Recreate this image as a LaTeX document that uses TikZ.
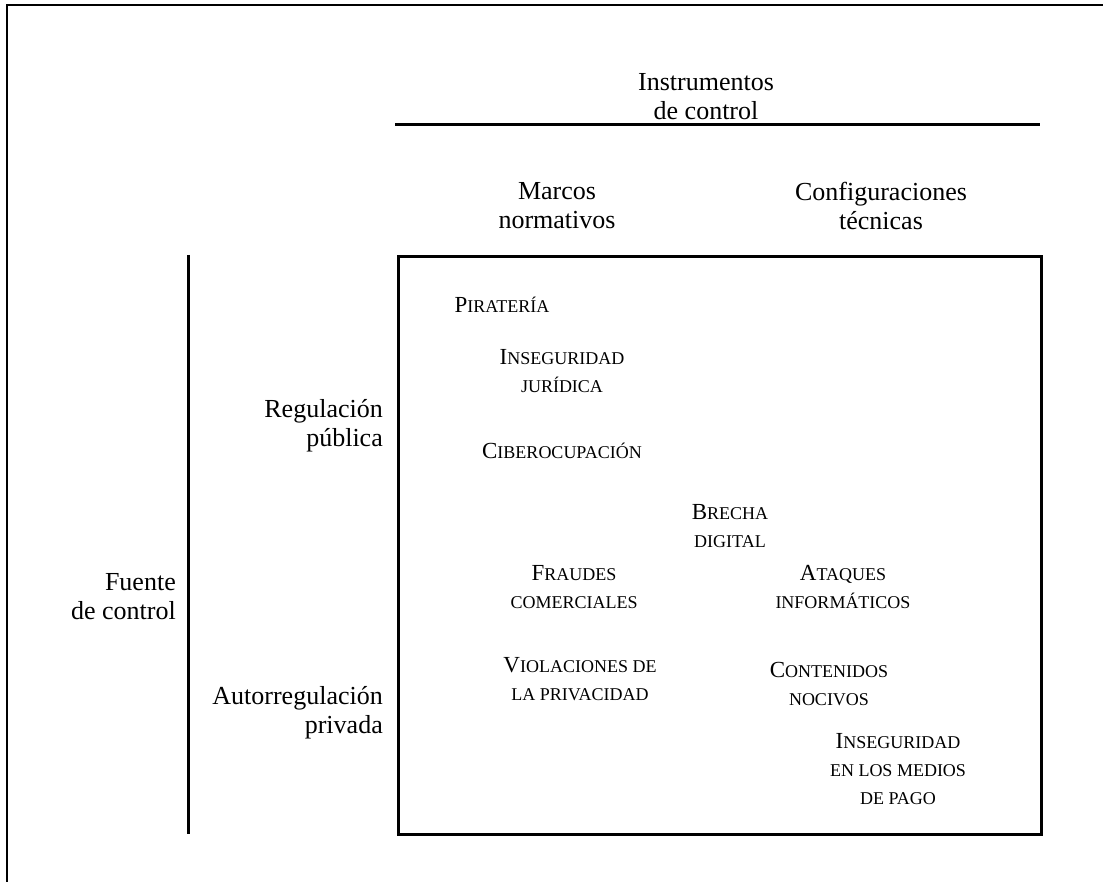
\documentclass[tikz,border=0pt]{standalone}
\usepackage{fontspec}
\setmainfont{Liberation Serif}
% capital initial followed by reduced capitals
\newcommand\capsword[2]{{\fontsize{23}{28}\selectfont #1}#2}
\begin{document}
\begin{tikzpicture}[x=1pt,y=-1pt,
  label/.style={font=\fontsize{26}{29}\selectfont, inner sep=0pt},
  issue/.style={font=\fontsize{18}{28}\selectfont, inner sep=0pt, align=center},
  rule/.style={line width=3pt},
  frame/.style={line width=2pt}]
\useasboundingbox (0,0) rectangle (1103,882);
\fill[white] (0,0) rectangle (1103,882);

% outer frame (only its top and left edges fall inside the page)
\coordinate (fbl) at (7,890);
\coordinate (ftl) at (7,5);
\coordinate (ftr) at (1110,5);
\draw[frame] (fbl) -- (ftl) -- (ftr);

% column headings
\node[label, align=center] (instr) at (706,97) {Instrumentos\\de control};
\coordinate (hl) at (395,125);
\coordinate (hr) at (1040,125);
\draw[rule] (hl) -- (hr);
\node[label, align=center] (marcos) at (557,206) {Marcos\\normativos};
\node[label, align=center] (config) at (881,206) {Configuraciones\\técnicas};

% row headings
\coordinate (vt) at (188,255);
\coordinate (vb) at (188,834);
\draw[rule] (vt) -- (vb);
\node[label, align=right, anchor=east] (fuente) at (176,597) {Fuente\\de control};
\node[label, align=right, anchor=east] (reg) at (383,426) {Regulación\\pública};
\node[label, align=right, anchor=east] (auto) at (383,713) {Autorregulación\\privada};

% matrix area
\node[draw, line width=3pt, minimum width=643pt, minimum height=578pt, inner sep=0pt, anchor=north west] (box) at (397,255) {};

\node[issue] (pir) at (502,305) {\capsword{P}{IRATERÍA}};
\node[issue] (inseg) at (562,371) {\capsword{I}{NSEGURIDAD}\\JURÍDICA};
\node[issue] (cibe) at (562,451) {\capsword{C}{IBEROCUPACIÓN}};
\node[issue] (brecha) at (730,526) {\capsword{B}{RECHA}\\DIGITAL};
\node[issue] (fraud) at (574,587) {\capsword{F}{RAUDES}\\COMERCIALES};
\node[issue] (ataq) at (843,587) {\capsword{A}{TAQUES}\\INFORMÁTICOS};
\node[issue] (viol) at (580,679) {\capsword{V}{IOLACIONES DE}\\LA PRIVACIDAD};
\node[issue] (cont) at (829,684) {\capsword{C}{ONTENIDOS}\\NOCIVOS};
\node[issue] (pago) at (898,769) {\capsword{I}{NSEGURIDAD}\\EN LOS MEDIOS\\DE PAGO};
\end{tikzpicture}
\end{document}
